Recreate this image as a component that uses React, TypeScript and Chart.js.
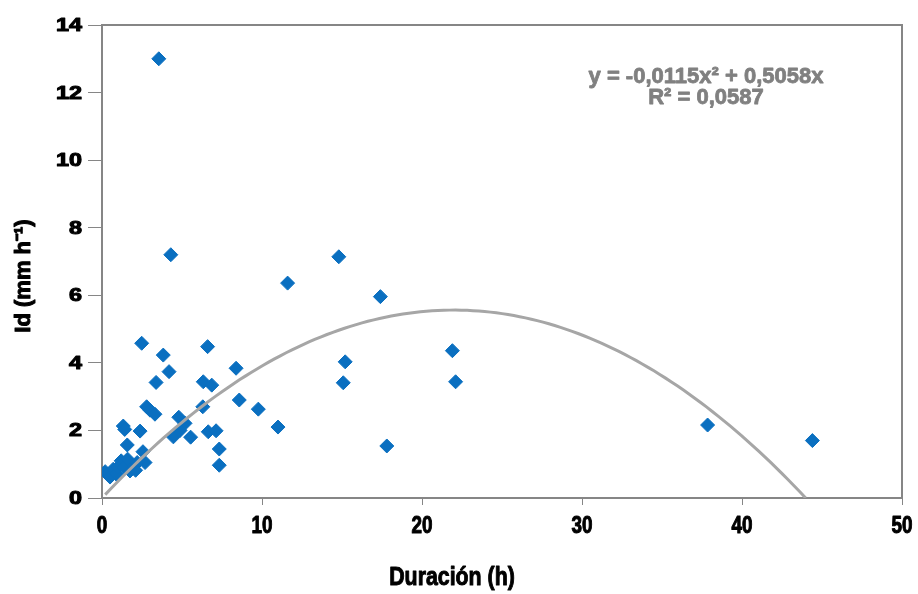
import React, { useEffect, useRef } from "react";
import { Chart, registerables } from "chart.js";

Chart.register(...registerables);

// ---- Data ----
const durationH = [
  3.55, 4.3, 14.8, 11.6, 17.4, 2.48, 6.6, 3.83, 21.9, 15.2,
  8.38, 4.19, 3.38, 6.33, 6.86, 15.08, 22.1, 8.58, 9.77, 2.79,
  3.0, 3.31, 6.3, 4.8, 5.19, 11.0, 1.33, 1.42, 2.38, 4.46,
  4.88, 5.54, 6.64, 7.13, 7.33, 7.33, 1.58, 2.56, 17.8, 37.85,
  44.4, 2.69, 0.2, 0.35, 0.5, 0.7, 0.9, 1.0, 1.2, 1.4,
  1.6, 1.75, 2.0, 2.2, 2.1,
];
const intensity = [
  13.0, 7.2, 7.14, 6.36, 5.96, 4.58, 4.48, 4.23, 4.36, 4.03,
  3.84, 3.74, 3.42, 3.44, 3.34, 3.41, 3.44, 2.9, 2.63, 2.7,
  2.6, 2.48, 2.7, 2.39, 2.21, 2.1, 2.13, 2.03, 1.98, 1.81,
  2.0, 1.8, 1.96, 1.99, 1.45, 0.97, 1.57, 1.37, 1.54, 2.16,
  1.7, 1.05, 0.78, 0.7, 0.62, 0.85, 0.7, 0.92, 1.1, 0.9,
  1.15, 0.8, 0.95, 1.05, 0.82,
];

const xTickValues = [0, 10, 20, 30, 40, 50];
const yTickValues = [0, 2, 4, 6, 8, 10, 12, 14];

// Trendline shown in the reference: y = -0,0115x² + 0,5058x
const trendA = -0.0115;
const trendB = 0.5058;
const trendXStart = 0.2;
const trendXEnd = 43.98;
const trendSteps = 120;

const equationLine = "y = -0,0115x² + 0,5058x";
const r2Line = "R² = 0,0587";
const xTitle = "Duración (h)";
const yTitle = "Id (mm h⁻¹)";

const SANS = '"Liberation Sans", Arial, sans-serif';

function heavyText(ctx: CanvasRenderingContext2D, text: string, x: number, y: number, w: number) {
  ctx.lineWidth = w;
  ctx.lineJoin = "round";
  ctx.strokeStyle = ctx.fillStyle as string;
  ctx.strokeText(text, x, y);
  ctx.fillText(text, x, y);
}

export default function App() {
  const canvasRef = useRef<HTMLCanvasElement | null>(null);

  useEffect(() => {
    document.body.style.margin = "0";
    const canvas = canvasRef.current;
    if (!canvas) return;

    const points = durationH.map((x, i) => ({ x, y: intensity[i] }));
    const trend: { x: number; y: number }[] = [];
    for (let i = 0; i <= trendSteps; i++) {
      const x = trendXStart + ((trendXEnd - trendXStart) * i) / trendSteps;
      trend.push({ x, y: Math.max(0, trendA * x * x + trendB * x) });
    }

    const frame = {
      id: "frame",
      beforeDatasetsDraw(chart: any) {
        const { ctx, chartArea: a } = chart;
        ctx.save();
        ctx.strokeStyle = "#868686";
        ctx.lineWidth = 2;
        ctx.strokeRect(a.left, a.top, a.right - a.left, a.bottom - a.top);
        ctx.restore();
      },
      afterDraw(chart: any) {
        const { ctx } = chart;
        const xs = chart.scales.x;
        const ys = chart.scales.y;
        ctx.save();
        // equation
        ctx.fillStyle = "#808080";
        ctx.textAlign = "center";
        ctx.textBaseline = "alphabetic";
        ctx.font = `bold 22px ${SANS}`;
        heavyText(ctx, equationLine, 706, 83, 0.8);
        heavyText(ctx, r2Line, 706, 104, 0.8);

        ctx.fillStyle = "#000000";
        ctx.textBaseline = "middle";
        // x tick labels (narrow)
        ctx.font = `bold 23px ${SANS}`;
        for (const v of xTickValues) {
          const px = xs.getPixelForValue(v);
          ctx.save();
          ctx.translate(px, 527);
          ctx.scale(0.82, 1);
          ctx.textAlign = "center";
          heavyText(ctx, String(v), 0, 0, 1);
          ctx.restore();
        }
        // y tick labels (wide)
        ctx.font = `bold 18px ${SANS}`;
        for (const v of yTickValues) {
          const py = ys.getPixelForValue(v);
          ctx.save();
          ctx.translate(82, py + 1);
          ctx.scale(1.3, 1);
          ctx.textAlign = "right";
          heavyText(ctx, String(v), 0, 0, 1);
          ctx.restore();
        }
        // x axis title
        ctx.save();
        ctx.font = `bold 26px ${SANS}`;
        ctx.translate(452, 578);
        ctx.scale(0.82, 1);
        ctx.textAlign = "center";
        heavyText(ctx, xTitle, 0, 0, 1);
        ctx.restore();
        // y axis title
        ctx.save();
        ctx.translate(24, 276);
        ctx.rotate(-Math.PI / 2);
        ctx.font = `bold 22px ${SANS}`;
        ctx.textAlign = "center";
        heavyText(ctx, yTitle, 0, 0, 1);
        ctx.restore();
        ctx.restore();
      },
    };

    const chart = new Chart(canvas, {
      type: "scatter",
      data: {
        datasets: [
          {
            label: "trend",
            data: trend,
            showLine: true,
            borderColor: "#A6A6A6",
            borderWidth: 3,
            pointRadius: 0,
            order: 0,
            tension: 0,
          } as any,
          {
            label: "Id",
            data: points,
            pointStyle: "rectRot",
            pointRadius: 7,
            backgroundColor: "#0A6FC0",
            borderColor: "#0A6FC0",
            borderWidth: 1,
            order: 1,
          },
        ],
      },
      options: {
        animation: false,
        responsive: false,
        layout: { padding: { left: 0, top: 25, right: 16, bottom: 0 } },
        plugins: {
          legend: { display: false },
          tooltip: { enabled: false },
        },
        scales: {
          x: {
            type: "linear",
            min: 0,
            max: 50,
            afterFit: (s: any) => {
              s.height = 96;
            },
            afterBuildTicks: (s: any) => {
              s.ticks = xTickValues.map((v) => ({ value: v }));
            },
            grid: {
              drawOnChartArea: false,
              drawTicks: true,
              tickLength: 7,
              color: "#868686",
              lineWidth: 1,
            },
            border: { display: true, color: "#868686", width: 2 },
            ticks: { display: false },
          },
          y: {
            type: "linear",
            min: 0,
            max: 14,
            afterFit: (s: any) => {
              s.width = 102;
            },
            afterBuildTicks: (s: any) => {
              s.ticks = yTickValues.map((v) => ({ value: v }));
            },
            grid: {
              drawOnChartArea: false,
              drawTicks: true,
              tickLength: 14,
              color: "#868686",
              lineWidth: 1,
            },
            border: { display: true, color: "#868686", width: 2 },
            ticks: { display: false },
          },
        },
      },
      plugins: [frame],
    });

    return () => chart.destroy();
  }, []);

  return (
    <div style={{ width: 918, height: 594, position: "relative", background: "#fff" }}>
      <canvas ref={canvasRef} width={918} height={594} style={{ width: 918, height: 594, display: "block" }} />
    </div>
  );
}
